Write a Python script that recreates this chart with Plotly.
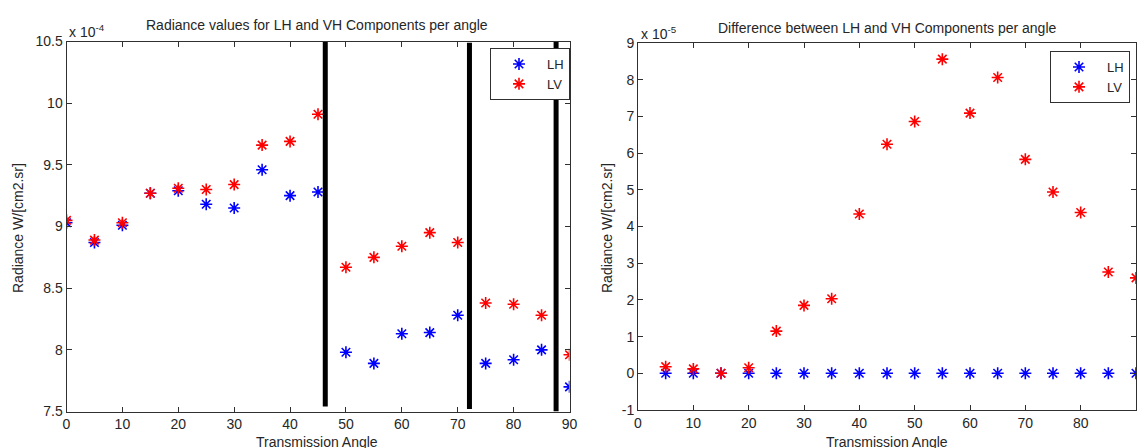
import plotly.graph_objects as go

# Transmission angles (degrees)
angles = [0, 5, 10, 15, 20, 25, 30, 35, 40, 45, 50, 55, 60, 65, 70, 75, 80, 85, 90]

# Radiance per angle, in units of 1e-4 W/[cm2.sr]
lh_radiance = [9.03, 8.87, 9.01, 9.27, 9.29, 9.18, 9.15, 9.46, 9.25, 9.28,
               7.98, 7.89, 8.13, 8.14, 8.28, 7.89, 7.92, 8.00, 7.70]
lv_radiance = [9.05, 8.89, 9.03, 9.27, 9.31, 9.30, 9.34, 9.66, 9.69, 9.91,
               8.67, 8.75, 8.84, 8.95, 8.87, 8.38, 8.37, 8.28, 7.96]

# Difference per angle, in units of 1e-5 W/[cm2.sr]
diff_angles = [5, 10, 15, 20, 25, 30, 35, 40, 45, 50, 55, 60, 65, 70, 75, 80, 85, 90]
lh_diff = [0, 0, 0, 0, 0, 0, 0, 0, 0, 0, 0, 0, 0, 0, 0, 0, 0, 0]
lv_diff = [0.18, 0.12, 0.0, 0.15, 1.15, 1.85, 2.03, 4.34, 6.24, 6.86,
           8.56, 7.09, 8.06, 5.83, 4.94, 4.38, 2.76, 2.60]

# Vertical separator bars on the radiance panel
sep_x = [46.3, 72.1, 87.6]
sep_low = [7.54, 7.52, 7.50]
sep_high = [10.50, 10.49, 10.50]

y1_ticks = [7.5, 8, 8.5, 9, 9.5, 10, 10.5]
y1_labels = ["7.5", "8", "8.5", "9", "9.5", "10", "10.5"]
y2_ticks = [-1, 0, 1, 2, 3, 4, 5, 6, 7, 8, 9]
y2_labels = ["-1", "0", "1", "2", "3", "4", "5", "6", "7", "8", "9"]
x_ticks = [0, 10, 20, 30, 40, 50, 60, 70, 80, 90]

FONT = "Liberation Sans, Arial, sans-serif"
TXT = "#262626"
AX = "#303030"
W, H = 1141, 448


def px_x(p):
    return p / W


def px_y(p):
    return (H - p) / H


fig = go.Figure()

star = dict(symbol="asterisk", size=10)

fig.add_trace(go.Scatter(x=angles, y=lh_radiance, mode="markers", name="LH",
                         marker=dict(**star, line=dict(color="#0000ff", width=1.6)),
                         xaxis="x", yaxis="y", legend="legend"))
fig.add_trace(go.Scatter(x=angles, y=lv_radiance, mode="markers", name="LV",
                         marker=dict(**star, line=dict(color="#ff0000", width=1.6)),
                         xaxis="x", yaxis="y", legend="legend"))

for sx, lo, hi in zip(sep_x, sep_low, sep_high):
    fig.add_trace(go.Scatter(x=[sx, sx], y=[lo, hi], mode="lines",
                             line=dict(color="black", width=5),
                             showlegend=False, hoverinfo="skip",
                             xaxis="x", yaxis="y"))

fig.add_trace(go.Scatter(x=diff_angles, y=lh_diff, mode="markers", name="LH",
                         marker=dict(**star, line=dict(color="#0000ff", width=1.6)),
                         xaxis="x2", yaxis="y2", legend="legend2"))
fig.add_trace(go.Scatter(x=diff_angles, y=lv_diff, mode="markers", name="LV",
                         marker=dict(**star, line=dict(color="#ff0000", width=1.6)),
                         xaxis="x2", yaxis="y2", legend="legend2"))

axis_common = dict(showline=True, mirror="ticks", linecolor=AX, linewidth=1,
                   ticks="inside", ticklen=5, tickcolor=AX, showgrid=False,
                   zeroline=False, automargin=False,
                   tickfont=dict(family=FONT, size=14, color=TXT))

legend_common = dict(bgcolor="white", bordercolor=AX, borderwidth=1,
                     font=dict(family=FONT, size=13, color=TXT),
                     xanchor="right", yanchor="top", tracegroupgap=0,
                     itemwidth=46)

fig.update_layout(
    width=W, height=H,
    margin=dict(l=0, r=0, t=0, b=0, autoexpand=False),
    paper_bgcolor="white", plot_bgcolor="white",
    font=dict(family=FONT, color=TXT),
    xaxis=dict(domain=[px_x(66.5), px_x(569.5)], range=[0, 90],
               tickvals=x_ticks, anchor="y", **axis_common),
    yaxis=dict(domain=[px_y(411.5), px_y(41.5)], range=[7.5, 10.5],
               tickvals=y1_ticks, ticktext=y1_labels, anchor="x", **axis_common),
    xaxis2=dict(domain=[px_x(638), px_x(1136)], range=[0, 90],
                tickvals=x_ticks, anchor="y2", **axis_common),
    yaxis2=dict(domain=[px_y(410), px_y(43)], range=[-1, 9],
                tickvals=y2_ticks, ticktext=y2_labels, anchor="x2", **axis_common),
    legend=dict(x=px_x(570), y=px_y(48), **legend_common),
    legend2=dict(x=px_x(1130), y=px_y(51), **legend_common),
)

annotations = [
    dict(text="Radiance values for LH and VH Components per angle",
         x=px_x(317), y=px_y(25), font=dict(size=14)),
    dict(text="Difference between LH and VH Components per angle",
         x=px_x(887), y=px_y(28), font=dict(size=14)),
    dict(text="x 10<sup>-4</sup>", x=px_x(67), y=px_y(31), xanchor="left",
         font=dict(size=14)),
    dict(text="x 10<sup>-5</sup>", x=px_x(639), y=px_y(33), xanchor="left",
         font=dict(size=14)),
    dict(text="Transmission Angle", x=px_x(317), y=0, yanchor="bottom",
         yshift=-3, borderpad=0, font=dict(size=14)),
    dict(text="Transmission Angle", x=px_x(887), y=0, yanchor="bottom",
         yshift=-3, borderpad=0, font=dict(size=14)),
    dict(text="Radiance W/[cm2.sr]", x=px_x(18), y=px_y(228), textangle=-90,
         font=dict(size=14)),
    dict(text="Radiance W/[cm2.sr]", x=px_x(607), y=px_y(228), textangle=-90,
         font=dict(size=14)),
]
for a in annotations:
    a.update(xref="paper", yref="paper", showarrow=False)
    a.setdefault("xanchor", "center")
    a.setdefault("yanchor", "middle")
    a["font"].update(family=FONT, color=TXT)
fig.update_layout(annotations=annotations)

fig.write_html("out.html")
